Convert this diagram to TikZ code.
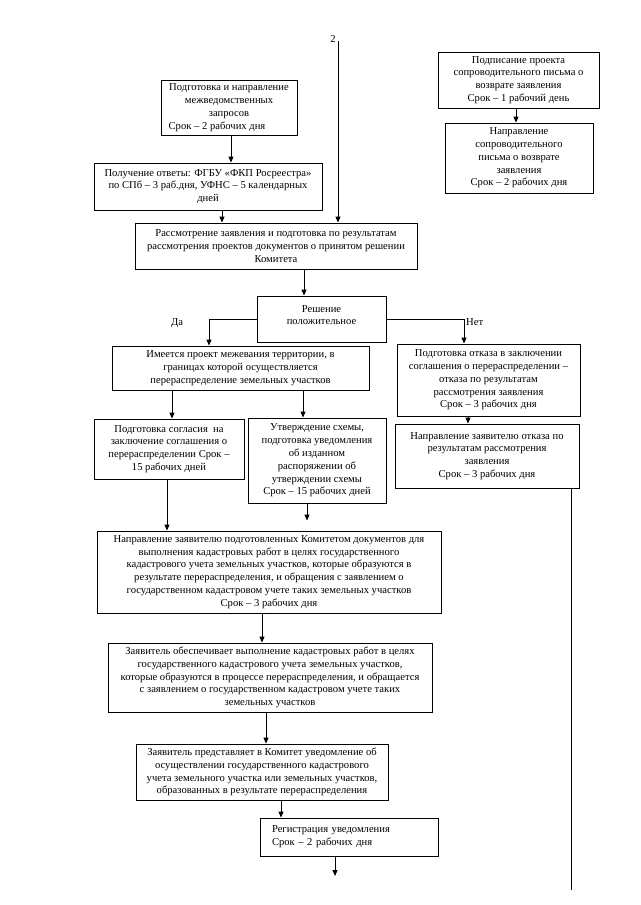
\documentclass[tikz,border=0pt]{standalone}
\usepackage{fontspec}
\setmainfont{Liberation Serif}
\usetikzlibrary{arrows.meta}
\tikzset{
  box/.style={draw, line width=0.9pt, inner sep=0pt, align=center, font=\fontsize{10.6}{12.8}\selectfont},
  lbl/.style={inner sep=0pt, font=\fontsize{10.6}{12.8}\selectfont},
  arr/.style={line width=0.9pt, -{Triangle[length=6pt,width=5pt]}},
  ln/.style={line width=0.9pt}
}
\newcommand\bx[7][]{%
  \pgfmathsetmacro\bxw{#5-#3}\pgfmathsetmacro\bxh{#6-#4}%
  \node[box,minimum width=\bxw pt,minimum height=\bxh pt,#1] (#2) at ({(#3+#5)/2},{(#4+#6)/2}) {#7};}
\begin{document}
\begin{tikzpicture}[x=1pt,y=-1pt]
\useasboundingbox (0,0) rectangle (640,905);
\fill[white] (0,0) rectangle (640,905);
% boxes
\bx{b1}{161}{80}{297}{135}{Подготовка и направление\\ межведомственных\\ запросов\\ Срок – 2 рабочих дня\hspace*{24pt}}
\bx{b2}{94}{163}{322}{210}{Получение ответы: ФГБУ «ФКП Росреестра»\\ по СПб – 3 раб.дня, УФНС – 5 календарных\\ дней}
\bx{b3}{135}{223}{417}{269}{Рассмотрение заявления и подготовка по результатам\\ рассмотрения проектов документов о принятом решении\\ Комитета}
\bx{bR}{257}{296}{386}{342}{Решение\\ положительное\\[-5pt]\mbox{}}
\bx{b4}{112}{346}{369}{390}{Имеется проект межевания территории, в\\ границах которой осуществляется\\ перераспределение земельных участков}
\bx{bN}{397}{344}{580}{416}{Подготовка отказа в заключении\\ соглашения о перераспределении –\\ отказа по результатам\\ рассмотрения заявления\\ Срок – 3 рабочих дня}
\bx{bN2}{395}{424}{579}{488}{Направление заявителю отказа по\\ результатам рассмотрения\\ заявления\\ Срок – 3 рабочих дня}
\bx{b5}{94}{419}{244}{479}{Подготовка согласия~ на\\ заключение соглашения о\\ перераспределении Срок –\\ 15 рабочих дней}
\bx{b6}{248}{418}{386}{503}{Утверждение схемы,\\ подготовка уведомления\\ об изданном\\ распоряжении об\\ утверждении схемы\\ Срок – 15 рабочих дней}
\bx{b7}{97}{531}{441}{613}{Направление заявителю подготовленных Комитетом документов для\\ выполнения кадастровых работ в целях государственного\\ кадастрового учета земельных участков, которые образуются в\\ результате перераспределения, и обращения с заявлением о\\ государственном кадастровом учете таких земельных участков\\ Срок – 3 рабочих дня}
\bx{b8}{108}{643}{432}{712}{Заявитель обеспечивает выполнение кадастровых работ в целях\\ государственного кадастрового учета земельных участков,\\ которые образуются в процессе перераспределения, и обращается\\ с заявлением о государственном кадастровом учете таких\\ земельных участков}
\bx{b9}{136}{744}{388}{800}{Заявитель представляет в Комитет уведомление об\\ осуществлении государственного кадастрового\\ учета земельного участка или земельных участков,\\ образованных в результате перераспределения}
\bx[align=left,text width=154pt]{b10}{260}{818}{438}{856}{Регистрация уведомления\\ Срок – 2 рабочих дня}
\bx{b11}{438}{52}{599}{108}{Подписание проекта\\ сопроводительного письма о\\ возврате заявления\\ Срок – 1 рабочий день}
\bx{b12}{445}{123}{593}{193}{Направление\\ сопроводительного\\ письма о возврате\\ заявления\\ Срок – 2 рабочих дня}
% labels
\node[lbl] (n2) at (333,39) {2};
\node[lbl] (da) at (177,323) {Да};
\node[lbl,anchor=west] (net) at (466,322) {Нет};
\coordinate (top2) at (338,41);
\coordinate (endB) at (335,876);
\coordinate (endR) at (571,890);
% connectors
\draw[arr] (top2) -- (b3.north -| top2);
\draw[arr] (b1.south -| 231,0) -- (b2.north -| 231,0);
\draw[arr] (b2.south -| 222,0) -- (b3.north -| 222,0);
\draw[arr] (b3.south -| 304,0) -- (bR.north -| 304,0);
\draw[arr] (bR.west) -| (b4.north -| 209,0);
\draw[arr] (bR.east) -| (bN.north -| 464,0);
\draw[arr] (bN.south -| 468,0) -- (bN2.north -| 468,0);
\draw[arr] (b4.south -| 172,0) -- (b5.north -| 172,0);
\draw[arr] (b4.south -| 303,0) -- (b6.north -| 303,0);
\draw[arr] (b5.south -| 167,0) -- (b7.north -| 167,0);
\draw[arr,shorten >=10pt] (b6.south -| 307,0) -- (b7.north -| 307,0);
\draw[arr] (b7.south -| 262,0) -- (b8.north -| 262,0);
\draw[arr] (b8.south -| 266,0) -- (b9.north -| 266,0);
\draw[arr] (b9.south -| 281,0) -- (b10.north -| 281,0);
\draw[arr] (b10.south -| endB) -- (endB);
\draw[ln] (bN2.south -| endR) -- (endR);
\draw[arr] (b11.south -| 516,0) -- (b12.north -| 516,0);
\end{tikzpicture}
\end{document}
